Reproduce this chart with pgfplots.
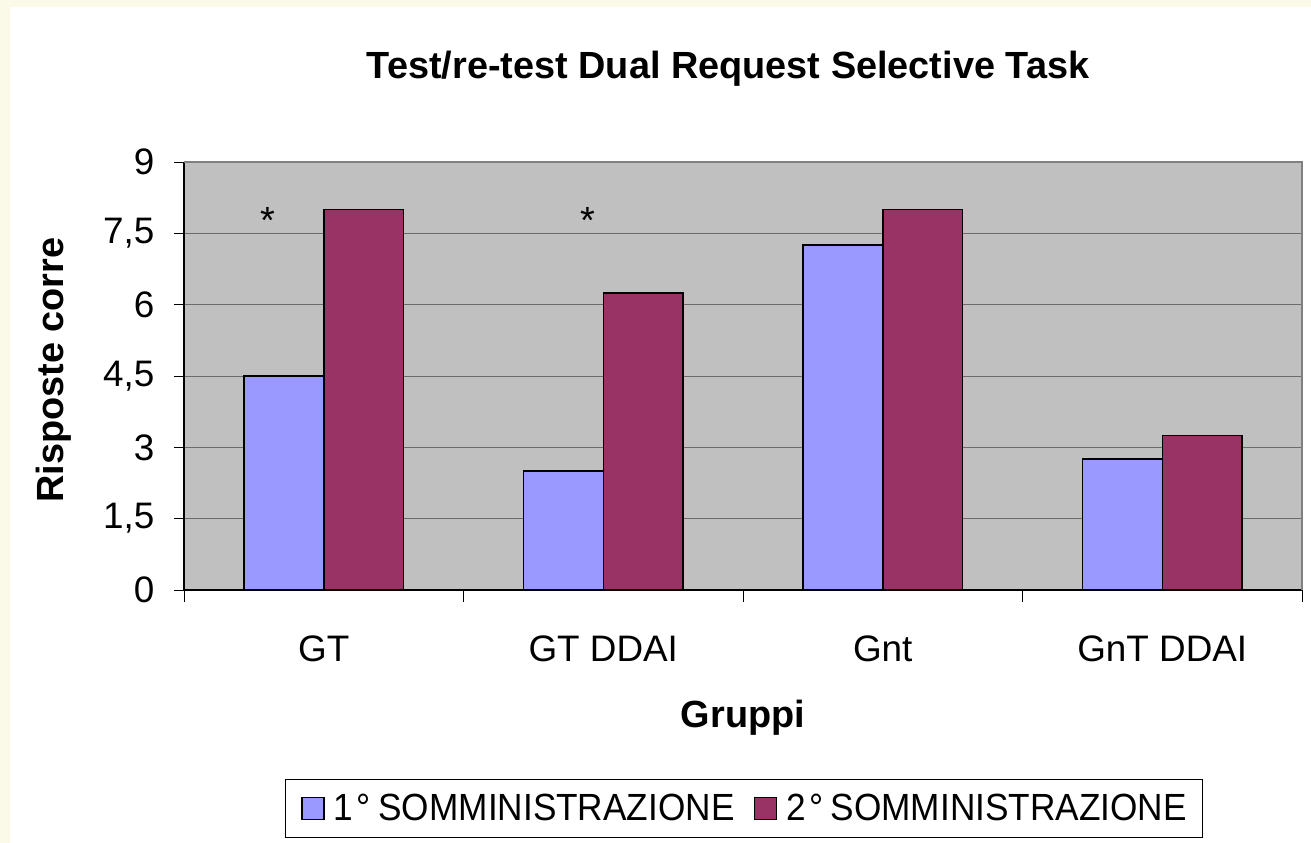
\documentclass[border=0pt]{standalone}
\usepackage{fontspec}
\setmainfont{Liberation Sans}
\usepackage{graphicx}
\usepackage{pgfplots}
\pgfplotsset{compat=1.18}
\definecolor{cream}{HTML}{FBFAE8}
\definecolor{barblue}{HTML}{9999FF}
\definecolor{barred}{HTML}{993366}
\definecolor{plotgray}{HTML}{C0C0C0}
\newcommand{\legtxt}[2]{\scalebox{0.93}[1]{#1\hspace{4bp}°\hspace{8bp}#2}}
\begin{document}
\begin{tikzpicture}
\useasboundingbox (0,0) rectangle (1311bp,843bp);
\fill[cream] (0,0) rectangle (1311bp,843bp);
\fill[white] (10bp,0) rectangle (1311bp,836bp);
\begin{axis}[
  at={(184bp,253bp)}, anchor=south west,
  scale only axis, width=1118bp, height=428bp,
  xmin=-0.5, xmax=3.5, ymin=0, ymax=9,
  axis lines=left,
  axis line style={-, black, line width=1.3bp},
  axis background/.style={fill=plotgray},
  xtick={0,1,2,3},
  xticklabels={GT, GT DDAI, Gnt, GnT DDAI},
  minor xtick={-0.5,0.5,1.5,2.5,3.5},
  major x tick style={draw=none},
  minor tick length=12bp,
  ytick={0,1.5,3,4.5,6,7.5,9},
  yticklabels={0,{1,5},3,{4,5},6,{7,5},9},
  major tick length=10bp,
  tick align=outside,
  tick style={black, line width=1bp},
  ymajorgrids,
  major grid style={black!58, line width=1bp},
  xticklabel style={font=\fontsize{37}{44}\selectfont, anchor=base, yshift=-61bp},
  yticklabel style={font=\fontsize{37}{44}\selectfont, anchor=east, xshift=-16bp},
  title={Test/re-test Dual Request Selective Task},
  title style={font=\fontsize{38}{44}\selectfont\bfseries, at={(0.4866,1.182)}, anchor=base},
  xlabel={Gruppi},
  xlabel style={font=\fontsize{38}{44}\selectfont\bfseries, at={(0.5,-0.3201)}, anchor=base},
  ylabel={Risposte corre},
  ylabel style={font=\fontsize{38}{44}\selectfont\bfseries, at={(-0.1082,0.514)}, anchor=base},
  legend columns=2,
  legend style={at={(0.5009,-0.5105)}, anchor=center, draw=black, line width=1bp, fill=white,
    font=\fontsize{38}{44}\selectfont, inner xsep=16bp, inner ysep=15bp,
    nodes={inner sep=0pt},
    /tikz/every odd column/.append style={column sep=9bp},
    /tikz/every even column/.append style={column sep=19bp}},
  legend image code/.code={\draw[#1, draw=black, line width=1.5bp] (0bp,-11bp) rectangle (22bp,11bp);},
  clip=false,
]
\addplot[ybar, bar width=0.286, bar shift=-0.143, fill=barblue, draw=black, line width=1.5bp]
  coordinates {(0,4.5) (1,2.5) (2,7.25) (3,2.75)};
\addlegendentry{\legtxt{1}{SOMMINISTRAZIONE}}
\addplot[ybar, bar width=0.286, bar shift=0.143, fill=barred, draw=black, line width=1.5bp]
  coordinates {(0,8) (1,6.25) (2,8) (3,3.25)};
\addlegendentry{\legtxt{2}{SOMMINISTRAZIONE}}
\draw[black!50, line width=2bp] (rel axis cs:0,1) -- (rel axis cs:1,1) -- (rel axis cs:1,0);
\node[anchor=base, font=\fontsize{38}{44}\selectfont] at (axis cs:-0.199,7.5) {*};
\node[anchor=base, font=\fontsize{38}{44}\selectfont] at (axis cs:0.945,7.5) {*};
\end{axis}
\end{tikzpicture}
\end{document}
